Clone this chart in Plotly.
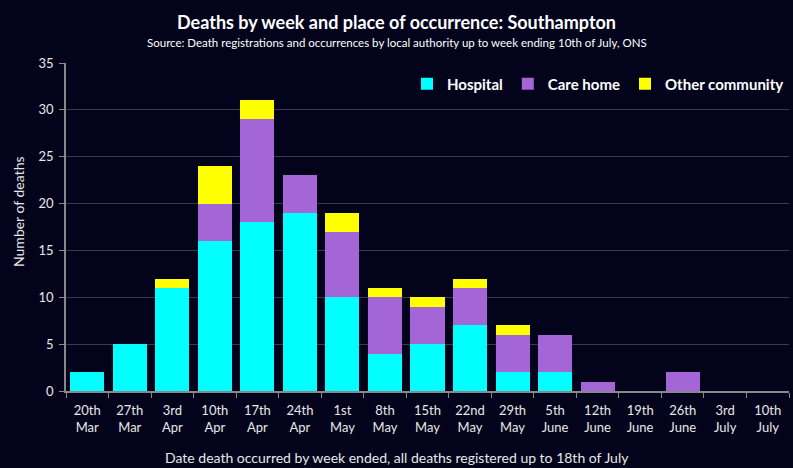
import plotly.graph_objects as go

weeks = ["20th<br>Mar", "27th<br>Mar", "3rd<br>Apr", "10th<br>Apr", "17th<br>Apr", "24th<br>Apr",
         "1st<br>May", "8th<br>May", "15th<br>May", "22nd<br>May", "29th<br>May", "5th<br>June",
         "12th<br>June", "19th<br>June", "26th<br>June", "3rd<br>July", "10th<br>July"]
hospital = [2, 5, 11, 16, 18, 19, 10, 4, 5, 7, 2, 2, 0, 0, 0, 0, 0]
care_home = [0, 0, 0, 4, 11, 4, 7, 6, 4, 4, 4, 4, 1, 0, 2, 0, 0]
other_community = [0, 0, 1, 4, 2, 0, 2, 1, 1, 1, 1, 0, 0, 0, 0, 0, 0]

bg = "#03031b"
font = "Lato, 'Open Sans', sans-serif"
W, H = 793, 468
L, R, T, B = 66, 4, 63, 77
pw, ph = W - L - R, H - T - B

def px(x):
    return (x - L) / pw

def py(y):
    return (H - B - y) / ph

fig = go.Figure()
fig.add_bar(x=weeks, y=hospital, name="<b>Hospital</b>", marker_color="#00ffff", marker_line_width=0)
fig.add_bar(x=weeks, y=care_home, name="<b>Care home</b>", marker_color="#a466d6", marker_line_width=0)
fig.add_bar(x=weeks, y=other_community, name="<b>Other community</b>", marker_color="#ffff00", marker_line_width=0)

fig.update_layout(
    barmode="stack", bargap=0.2,
    width=W, height=H,
    paper_bgcolor=bg, plot_bgcolor=bg,
    margin=dict(l=L, r=R, t=T, b=B, autoexpand=False),
    font=dict(family=font, color="#e8e8e8", size=13),
    showlegend=True,
    legend=dict(orientation="h", x=1.0, xanchor="right", y=py(84), yanchor="middle",
                font=dict(size=15, color="#ffffff"), bgcolor="rgba(0,0,0,0)",
                traceorder="normal", itemwidth=30, tracegroupgap=0),
    xaxis=dict(tickson="boundaries", ticks="outside", ticklen=5, tickcolor="#888888",
               showline=True, linecolor="#888888", linewidth=1.5, automargin=False,
               ticklabelstandoff=7,
               tickfont=dict(size=13, color="#e8e8e8")),
    yaxis=dict(range=[0, 35], dtick=5, ticks="outside", ticklen=5, tickcolor="#888888",
               showline=True, linecolor="#888888", linewidth=1.5, automargin=False,
               ticklabelstandoff=3,
               gridcolor="#3a3a48", gridwidth=1, zeroline=False,
               tickfont=dict(size=13, color="#e8e8e8")),
    annotations=[
        dict(text="<b>Deaths by week and place of occurrence: Southampton</b>",
             x=px(396.5), y=py(22), xref="paper", yref="paper", yanchor="middle",
             showarrow=False, font=dict(size=18, color="#ffffff")),
        dict(text="Source: Death registrations and occurrences by local authority up to week ending 10th of July, ONS",
             x=px(396.5), y=py(42), xref="paper", yref="paper", yanchor="middle",
             showarrow=False, font=dict(size=11.5, color="#ffffff")),
        dict(text="Date death occurred by week ended, all deaths registered up to 18th of July",
             x=px(396.5), y=py(457), xref="paper", yref="paper", yanchor="middle",
             showarrow=False, font=dict(size=14, color="#e8e8e8")),
        dict(text="Number of deaths", textangle=-90,
             x=px(18), y=py(212), xref="paper", yref="paper", xanchor="center", yanchor="middle",
             showarrow=False, font=dict(size=14, color="#e8e8e8")),
    ],
)

fig.write_html("out.html", config={"displayModeBar": False},
               post_script="document.body.style.margin='0';document.body.style.background='" + bg + "';")
